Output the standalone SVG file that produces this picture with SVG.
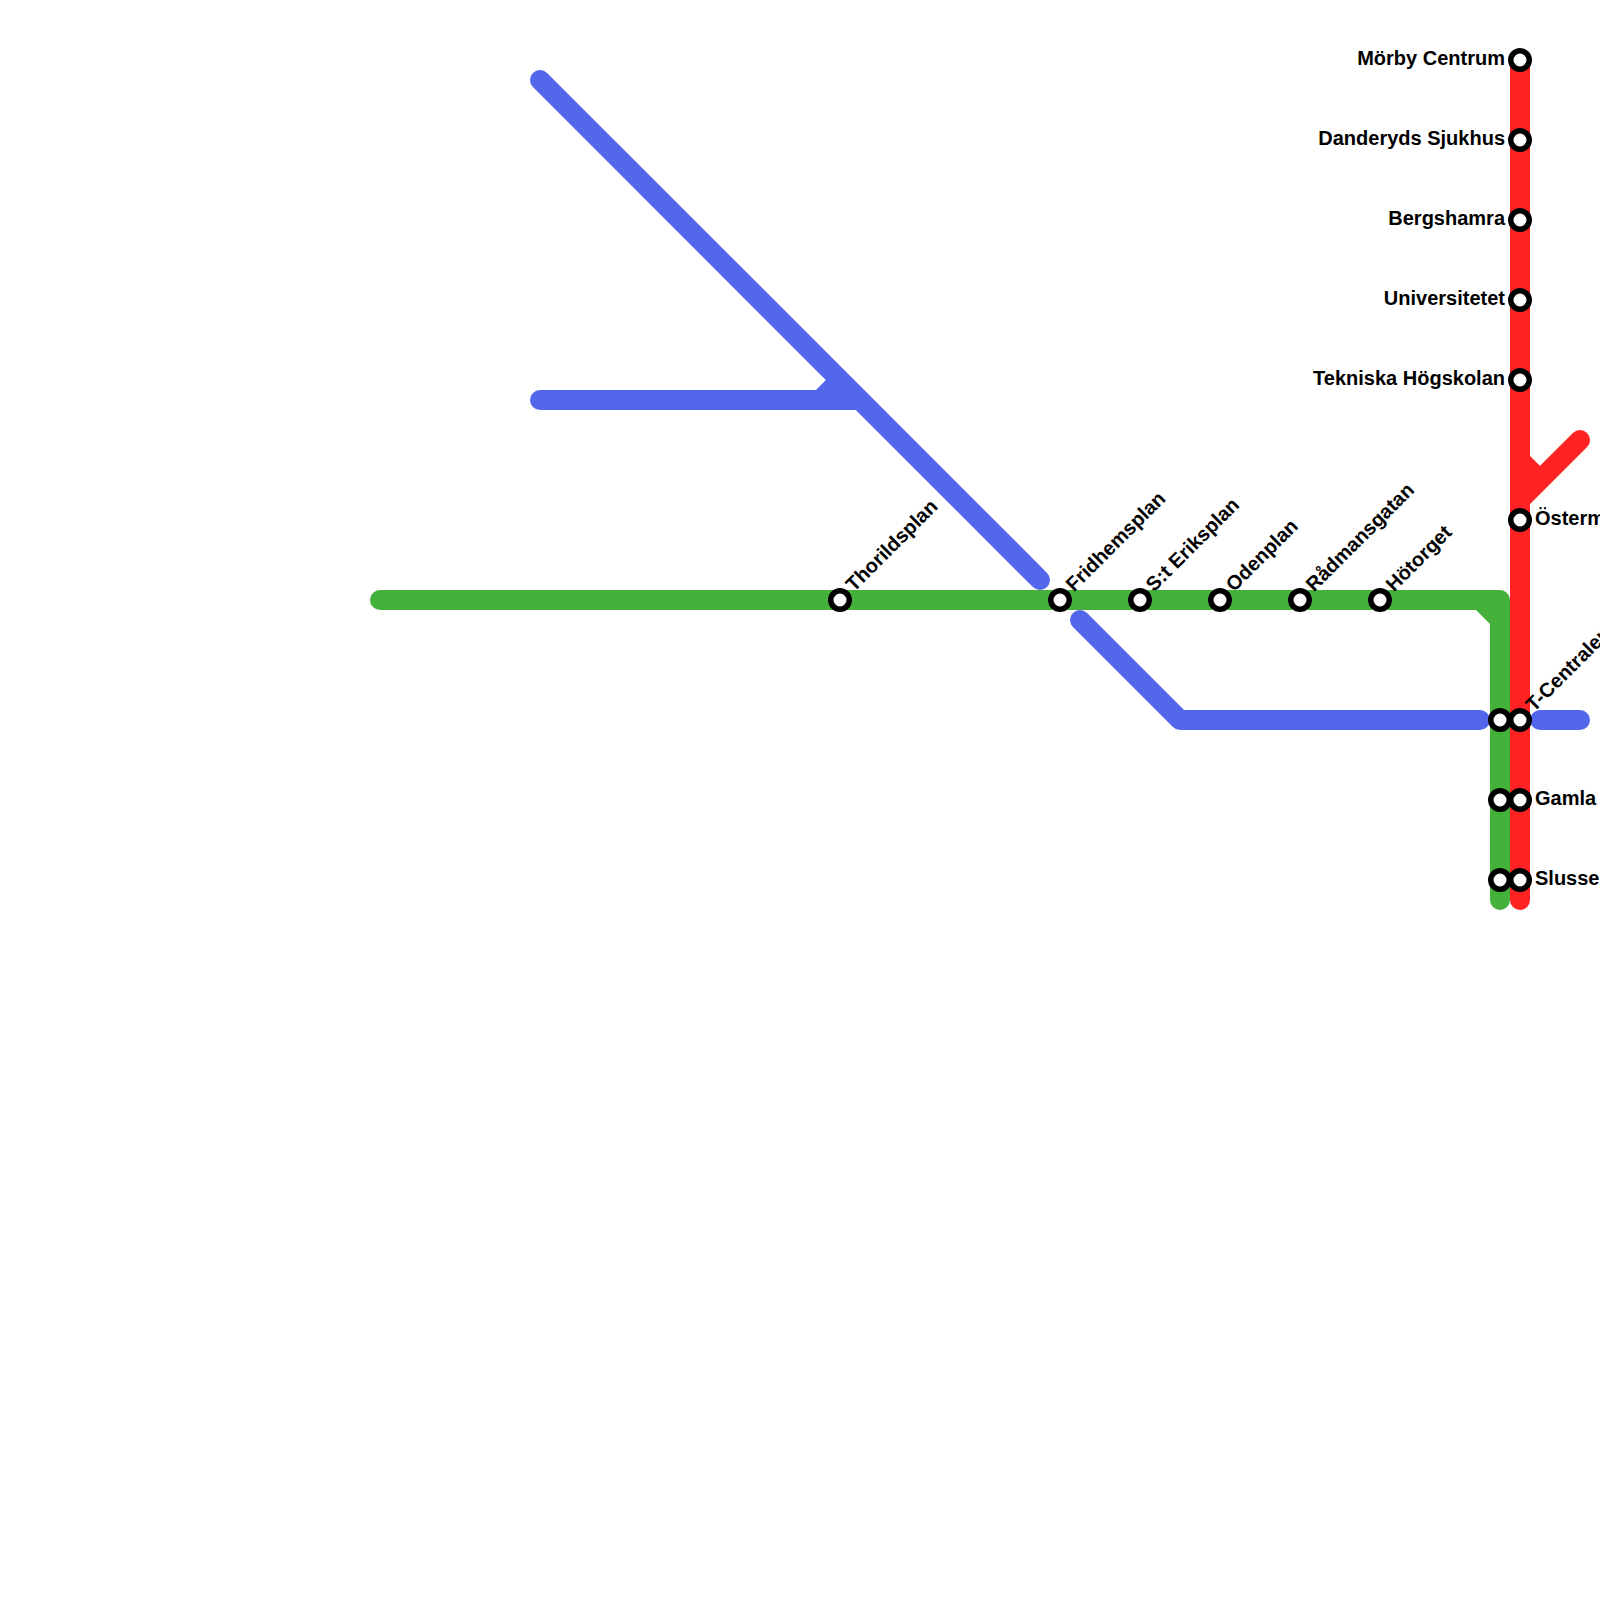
<svg xmlns="http://www.w3.org/2000/svg" width="1600" height="1600" viewBox="0 0 1600 1600">
<style>
.line{fill:none;stroke-width:20;stroke-linecap:round;stroke-linejoin:round}
.stub{fill:none;stroke-width:20;stroke-linecap:butt}
.blue{stroke:#5367ec}.green{stroke:#44b13b}.red{stroke:#ff2222}
.st{fill:#fff;stroke:#000;stroke-width:5.5}
text{font-family:"Liberation Sans",Arial,sans-serif;font-weight:700;font-size:20px;fill:#000}
.l{text-anchor:end}
</style>
<rect width="1600" height="1600" fill="#fff"/>
<g id="connectors">
<path class="line green" d="M380 600H1500V900"/>
<path class="stub green" d="M1480 600L1500 620"/>
<path class="line blue" d="M540 80L1040 580"/>
<path class="line blue" d="M540 400H860"/>
<path class="stub blue" d="M820 400L840 380"/>
<path class="line blue" d="M1080 620L1180 720H1480"/>
<path class="line blue" d="M1540 720H1580"/>
<path class="line red" d="M1520 60V900"/>
<path class="line red" d="M1580 440L1520 500"/>
<path class="stub red" d="M1520 460L1540 480"/>
</g>
<g id="station-thorildsplan"><circle class="st" cx="840" cy="600" r="9.25"/><text transform="translate(854 592.5) rotate(-45)">Thorildsplan</text></g>
<g id="station-fridhemsplan"><circle class="st" cx="1060" cy="600" r="9.25"/><text transform="translate(1074 592.5) rotate(-45)">Fridhemsplan</text></g>
<g id="station-sankt-eriksplan"><circle class="st" cx="1140" cy="600" r="9.25"/><text transform="translate(1154 592.5) rotate(-45)">S:t Eriksplan</text></g>
<g id="station-odenplan"><circle class="st" cx="1220" cy="600" r="9.25"/><text transform="translate(1234 592.5) rotate(-45)">Odenplan</text></g>
<g id="station-radmansgatan"><circle class="st" cx="1300" cy="600" r="9.25"/><text transform="translate(1314 592.5) rotate(-45)">Rådmansgatan</text></g>
<g id="station-hotorget"><circle class="st" cx="1380" cy="600" r="9.25"/><text transform="translate(1394 592.5) rotate(-45)">Hötorget</text></g>
<g id="station-morby"><circle class="st" cx="1520" cy="60" r="9.25"/><text class="l" x="1505" y="65">Mörby Centrum</text></g>
<g id="station-danderyd"><circle class="st" cx="1520" cy="140" r="9.25"/><text class="l" x="1505" y="145">Danderyds Sjukhus</text></g>
<g id="station-bergshamra"><circle class="st" cx="1520" cy="220" r="9.25"/><text class="l" x="1505" y="225">Bergshamra</text></g>
<g id="station-universitetet"><circle class="st" cx="1520" cy="300" r="9.25"/><text class="l" x="1505" y="305">Universitetet</text></g>
<g id="station-tekniska"><circle class="st" cx="1520" cy="380" r="9.25"/><text class="l" x="1505" y="385">Tekniska Högskolan</text></g>
<g id="station-ostermalmstorg"><circle class="st" cx="1520" cy="520" r="9.25"/><text x="1535" y="525">Östermalmstorg</text></g>
<g id="station-t-centralen-green"><circle class="st" cx="1500" cy="720" r="9.25"/></g>
<g id="station-t-centralen"><circle class="st" cx="1520" cy="720" r="9.25"/><text transform="translate(1534 712.5) rotate(-45)">T-Centralen</text></g>
<g id="station-gamla-stan-green"><circle class="st" cx="1500" cy="800" r="9.25"/></g>
<g id="station-gamla-stan"><circle class="st" cx="1520" cy="800" r="9.25"/><text x="1535" y="805">Gamla Stan</text></g>
<g id="station-slussen-green"><circle class="st" cx="1500" cy="880" r="9.25"/></g>
<g id="station-slussen"><circle class="st" cx="1520" cy="880" r="9.25"/><text x="1535" y="885">Slussen</text></g>
</svg>
